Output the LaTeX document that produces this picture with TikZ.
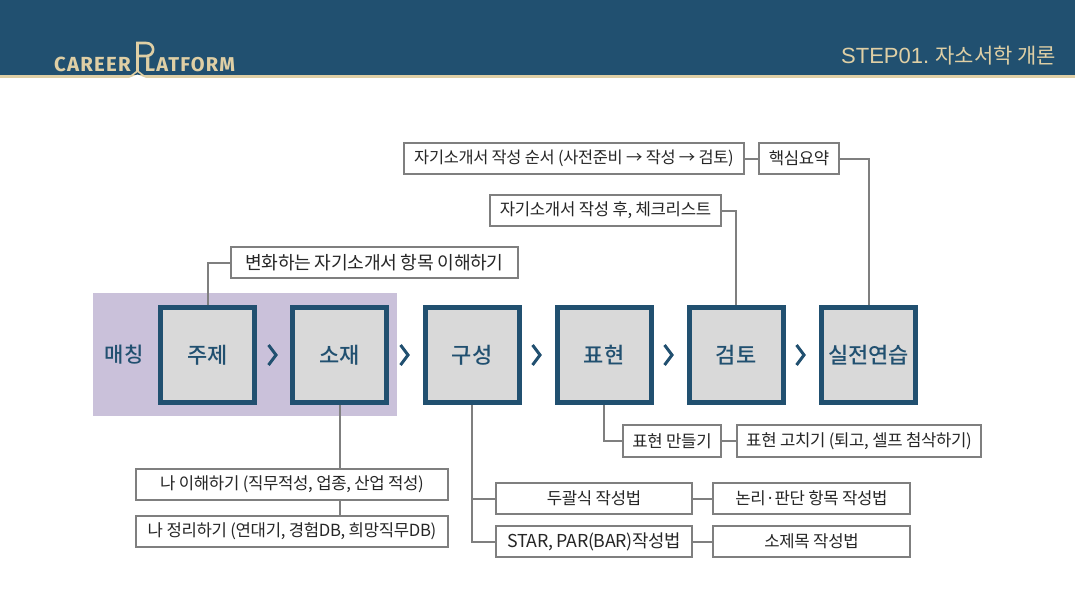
\documentclass[tikz,border=0pt]{standalone}
\usepackage{fontspec}
\setmainfont[LetterSpace=-2]{Noto Sans CJK KR}
\newfontfamily\logofont[LetterSpace=6]{Fira Sans}
\newfontfamily\headfont{Noto Sans CJK KR}
\newfontfamily\steplatin{Liberation Sans}
\newfontfamily\stepfont{Noto Sans CJK KR Medium}
\definecolor{navy}{HTML}{215070}
\definecolor{sand}{HTML}{DFCFA5}
\definecolor{lilac}{HTML}{CAC1DA}
\definecolor{boxgray}{HTML}{D9D9D9}
\definecolor{linegray}{HTML}{7F7F7F}
\begin{document}
\begin{tikzpicture}[x=1pt, y=-1pt, thick]
    \tikzstyle{stepbox}=[rectangle, draw=navy, fill=boxgray, line width=5pt, minimum width=94pt, minimum height=95pt, inner sep=0pt, text=navy, font=\stepfont\fontsize{22}{24}\selectfont]
    \tikzstyle{subbox}=[rectangle, draw=linegray, fill=white, line width=2pt, minimum height=31.5pt, inner sep=0pt, text=black!85, font=\fontsize{16.7}{18}\selectfont]
    \tikzstyle{link}=[draw=linegray, line width=2pt]
    \tikzstyle{chevron}=[draw=navy, line width=3pt]
    \useasboundingbox (0,0) rectangle (1075,605);

    % header
    \fill[navy] (0,0) rectangle (1075,75);
    \fill[sand] (0,75) rectangle (1075,78);
    \fill[white] (129,78) -- (137.5,74.5) -- (146,78) -- cycle;
    \node[text=sand, font=\logofont\bfseries\fontsize{20.4}{20}\selectfont, anchor=base east, inner sep=0pt] (career) at (131,71) {CAREER};
    \node[text=sand, font=\logofont\bfseries\fontsize{20}{20}\selectfont, anchor=base west, inner sep=0pt] (platform) at (144.5,71) {LATFORM};
    \draw[sand, line width=2.6pt] (137.5,72) -- (137.5,43) -- (146,43) .. controls (155.5,43) and (155.5,56) .. (146,56) -- (137.5,56);
    \draw[sand, line width=1.6pt] (131,76) -- (137.5,71) -- (144,76);
    \node[text=sand, font=\headfont\fontsize{21}{22}\selectfont, anchor=east, inner sep=0pt] (title) at (1056.5,56) {{\steplatin\fontsize{22}{22}\selectfont STEP01.} 자소서학 개론};

    % matching band
    \fill[lilac] (93,293) rectangle (397,416);
    \node[text=navy, font=\stepfont\fontsize{21}{22}\selectfont, inner sep=0pt] (match) at (124,355) {매칭};

    \node[stepbox] (juje) at (207.5,355) {주제};
    \node[stepbox] (sojae) at (339.5,355) {소재};
    \node[stepbox] (gusung) at (472,355) {구성};
    \node[stepbox] (pyohyun) at (604,355) {표현};
    \node[stepbox] (geomto) at (736,355) {검토};
    \node[stepbox] (siljeon) at (868.5,355) {실전연습};

    \draw[chevron] (268.5,345) -- (276,355) -- (268.5,365);
    \draw[chevron] (400.5,345) -- (408,355) -- (400.5,365);
    \draw[chevron] (532.5,345) -- (540,355) -- (532.5,365);
    \draw[chevron] (664.5,345) -- (672,355) -- (664.5,365);
    \draw[chevron] (796.5,345) -- (804,355) -- (796.5,365);

    \node[subbox, minimum width=287pt, font=\fontsize{18.2}{20}\selectfont] (change) at (374.5,262.5) {변화하는 자기소개서 항목 이해하기};
    \node[subbox, minimum width=340pt, font=\fontsize{16.4}{18}\selectfont] (order) at (574,158.5) {자기소개서 작성 순서 (사전준비 → 작성 → 검토)};
    \node[subbox, minimum width=80pt] (summary) at (799,158.5) {핵심요약};
    \node[subbox, minimum width=231pt] (check) at (605.5,210.5) {자기소개서 작성 후, 체크리스트};
    \node[subbox, minimum width=312pt] (know) at (292,484.5) {나 이해하기 (직무적성, 업종, 산업 적성)};
    \node[subbox, minimum width=312pt] (sort) at (292,531.5) {나 정리하기 (연대기, 경험DB, 희망직무DB)};
    \node[subbox, minimum width=196pt] (dual) at (594,498.5) {두괄식 작성법};
    \node[subbox, minimum width=196pt, font=\fontsize{17.8}{18}\selectfont] (star) at (594,541.5) {STAR, PAR(BAR)작성법};
    \node[subbox, minimum width=197pt] (logic) at (811.5,498.5) {논리·판단 항목 작성법};
    \node[subbox, minimum width=197pt] (subtitle) at (811.5,541.5) {소제목 작성법};
    \node[subbox, minimum width=98pt] (make) at (672,441) {표현 만들기};
    \node[subbox, minimum width=244pt] (fix) at (859,441) {표현 고치기 (퇴고, 셀프 첨삭하기)};

    \draw[link] (change) -| (juje);
    \draw[link] (sojae) -- (sojae |- know.north);
    \draw[link] (sojae |- know.south) -- (sojae |- sort.north);
    \draw[link] (gusung) |- (dual);
    \draw[link] (gusung) |- (star);
    \draw[link] (dual) -- (logic);
    \draw[link] (star) -- (subtitle);
    \draw[link] (pyohyun) |- (make);
    \draw[link] (make) -- (fix);
    \draw[link] (order) -- (summary);
    \draw[link] (summary) -| (siljeon);
    \draw[link] (check) -| (geomto);
\end{tikzpicture}
\end{document}
